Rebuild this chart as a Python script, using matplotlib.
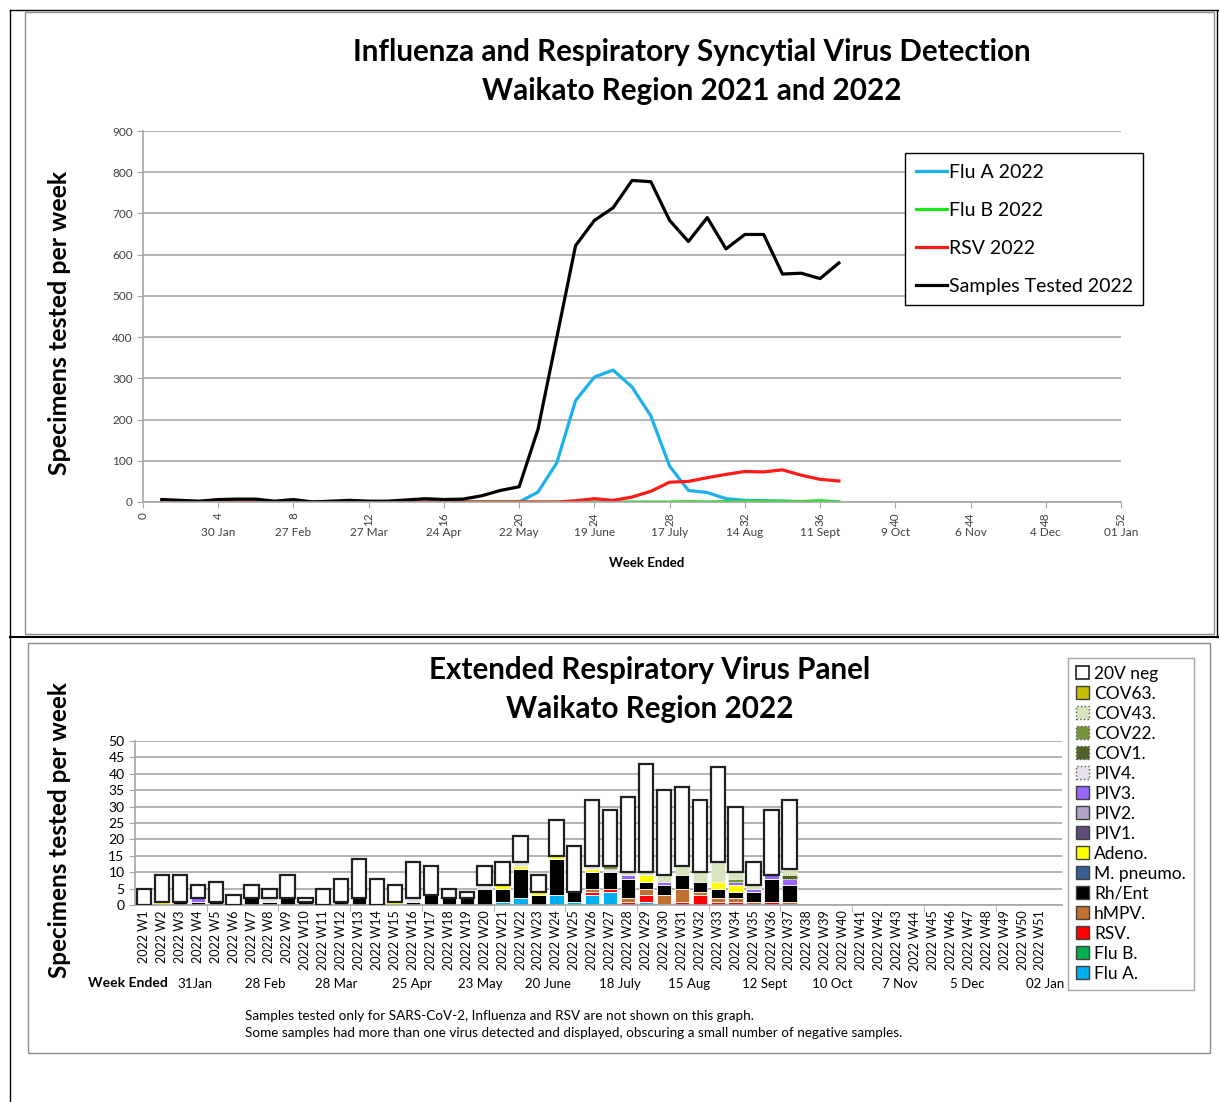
import numpy as np
import matplotlib
matplotlib.use('Agg')
import matplotlib.pyplot as plt
from matplotlib.lines import Line2D
from matplotlib.patches import Patch, Rectangle

plt.rcParams['font.family'] = ['Lato', 'DejaVu Sans']

# ---- top chart: weekly counts 2022 (weeks 1..37)
weeks = list(range(1, 38))
samples = [6, 4, 2, 6, 7, 7, 2, 6, 0, 2, 4, 2, 2, 5, 8, 6, 7, 15, 28, 37,
           176, 399, 622, 683, 714, 780, 777, 683, 632, 690, 614, 649, 649, 553, 555, 542, 580]
flu_a = [0] * 20 + [24, 95, 246, 303, 320, 279, 209, 87, 28, 23, 8, 4, 3, 2, 0, 2, 0]
flu_b = [0] * 28 + [1, 0, 1, 2, 2, 2, 1, 3, 0]
rsv = [0] * 22 + [3, 8, 4, 12, 26, 48, 50, 59, 67, 74, 73, 78, 65, 55, 51]

top_ticks = list(range(0, 53, 4))
top_dates = ['30 Jan', '27 Feb', '27 Mar', '24 Apr', '22 May', '19 June', '17 July',
             '14 Aug', '11 Sept', '9 Oct', '6 Nov', '4 Dec', '01 Jan']

# ---- bottom chart: extended panel, weeks W1..W37 (rest of year empty)
week_labels = ['2022 W%d' % i for i in range(1, 52)]
p_flu_a = [0] * 20 + [1, 2, 0, 3, 1, 3, 4, 0, 1, 0, 0, 0, 0, 0, 0, 0, 0]
p_flu_b = [0] * 37
p_rsv = [0] * 20 + [0, 0, 0, 0, 0, 1, 1, 1, 2, 0, 1, 3, 1, 1, 0, 1, 0]
p_hmpv = [0] * 20 + [0, 0, 0, 0, 0, 1, 0, 1, 2, 3, 4, 1, 1, 1, 1, 0, 1]
p_rh = [0, 0, 1, 1, 1, 0, 2, 1, 2, 1, 0, 1, 2, 0, 0, 1, 3, 2, 2, 5,
        4, 9, 3, 11, 3, 5, 5, 6, 2, 3, 4, 3, 3, 2, 3, 7, 5]
p_mpn = [0] * 37
p_adeno = [0, 1, 0, 0, 0, 0, 0, 0, 0, 0, 0, 0, 0, 0, 1, 0, 0, 0, 0, 0,
           1, 1, 1, 1, 0, 1, 0, 0, 2, 0, 0, 0, 2, 2, 0, 0, 0]
p_piv1 = [0] * 37
p_piv2 = [0] * 37
p_piv3 = [0, 0, 0, 1] + [0] * 16 + [0, 0, 0, 0, 0, 0, 0, 1, 0, 1, 0, 0, 0, 1, 1, 1, 2]
p_piv4 = [0, 0, 0, 0, 0, 0, 0, 1, 0, 0, 0, 0, 0, 0, 0, 1, 0, 0, 0, 1,
          0, 1, 0, 0, 0, 1, 1, 0, 0, 0, 0, 0, 0, 0, 0, 0, 0]
p_cov1 = [0] * 36 + [1]
p_cov22 = [0] * 26 + [1, 0, 0, 0, 0, 0, 0, 1, 0, 0, 0]
p_cov43 = [0] * 27 + [1, 1, 2, 3, 3, 6, 2, 1, 0, 2]
p_cov63 = [0] * 37
p_neg = [5, 8, 8, 4, 6, 3, 4, 3, 7, 1, 5, 7, 12, 8, 5, 11, 9, 3, 2, 6,
         7, 8, 5, 11, 14, 20, 17, 23, 33, 26, 24, 22, 29, 20, 7, 20, 21]

bottom_dates = ['31Jan', '28 Feb', '28 Mar', '25 Apr', '23 May', '20 June', '18 July',
                '15 Aug', '12 Sept', '10 Oct', '7 Nov', '5 Dec', '02 Jan']

W, H = 1219, 1102


def fx(px):
    return px / W


def fy(py):
    return 1 - py / H


fig = plt.figure(figsize=(12.19, 11.02), dpi=100)

# page frame lines (document table look)
for xs, ys, c, lw in [([10, 10], [10, 1102], 'black', 1.0),
                      ([10, 1219], [10, 10], 'black', 1.0),
                      ([10, 1219], [637, 637], 'black', 1.5),
                      ([1217, 1217], [10, 637], 'black', 1.0)]:
    fig.add_artist(Line2D([fx(x) for x in xs], [fy(y) for y in ys], color=c, lw=lw,
                          transform=fig.transFigure))
for x0, y0, x1, y1 in [(25, 12, 1214, 634), (28, 643, 1210, 1053)]:
    fig.add_artist(Rectangle((fx(x0), fy(y1)), fx(x1) - fx(x0), fy(y0) - fy(y1),
                             transform=fig.transFigure, fill=False, ec='#8c8c8c', lw=1))

gray = '#a6a6a6'

# ================= top chart
ax1 = fig.add_axes([fx(143), fy(502), fx(1121) - fx(143), fy(131) - fy(502)])
ax1.plot(weeks, flu_a, color='#1cb0ec', lw=2.3, label='Flu A 2022')
ax1.plot(weeks, flu_b, color='#1ee61e', lw=2.3, label='Flu B 2022')
ax1.plot(weeks, rsv, color='#ff1a1a', lw=2.3, label='RSV 2022')
ax1.plot(weeks, samples, color='black', lw=2.3, label='Samples Tested 2022')
ax1.set_xlim(0, 52)
ax1.set_ylim(0, 900)
ax1.set_yticks(range(0, 901, 100))
ax1.set_xticks(top_ticks)
ax1.set_xticklabels([str(t) for t in top_ticks], rotation=90, fontsize=8.5, color='#404040')
ax1.tick_params(axis='y', labelsize=8.5, labelcolor='#404040')
ax1.tick_params(color=gray, length=4)
ax1.grid(axis='y', color=gray, lw=1.2)
ax1.set_axisbelow(True)
for s in ['top', 'right']:
    ax1.spines[s].set_visible(False)
for s in ['left', 'bottom']:
    ax1.spines[s].set_color(gray)
    ax1.spines[s].set_linewidth(1.2)

for wk, lab in zip(top_ticks[1:], top_dates):
    ax1.text(wk, -0.081, lab, transform=ax1.get_xaxis_transform(), ha='center', va='center',
             fontsize=8.5, color='#404040')

fig.text(fx(692), fy(52), 'Influenza and Respiratory Syncytial Virus Detection',
         ha='center', va='center', fontsize=21.3, weight='bold')
fig.text(fx(692), fy(91), 'Waikato Region 2021 and 2022', ha='center', va='center',
         fontsize=21.3, weight='bold')
fig.text(fx(60), fy(323), 'Specimens tested per week', rotation=90, ha='center', va='center',
         fontsize=18, weight='bold')
fig.text(fx(647), fy(563), 'Week Ended', ha='center', va='center', fontsize=9.5, weight='bold')

leg1 = ax1.legend(loc='upper left', bbox_to_anchor=(fx(905), fy(153)), bbox_transform=fig.transFigure,
                  fontsize=14, frameon=True, fancybox=False, edgecolor='black', framealpha=1,
                  labelspacing=1.08, handlelength=1.6, handletextpad=0.1, borderpad=0.55,
                  borderaxespad=0)
leg1.get_frame().set_linewidth(1.0)

# ================= bottom chart
ax2 = fig.add_axes([fx(135), fy(905), fx(1062) - fx(135), fy(741) - fy(905)])
n = len(week_labels)
x = np.arange(n)


def pad(v):
    return np.array(v + [0] * (n - len(v)), dtype=float)


stack = [
    ('Flu A.', p_flu_a, '#00b0f0', None),
    ('Flu B.', p_flu_b, '#00b050', None),
    ('RSV.', p_rsv, '#ff0000', None),
    ('hMPV.', p_hmpv, '#c0712f', None),
    ('Rh/Ent', p_rh, '#000000', None),
    ('M. pneumo.', p_mpn, '#376092', None),
    ('Adeno.', p_adeno, '#ffff00', None),
    ('PIV1.', p_piv1, '#604a7b', None),
    ('PIV2.', p_piv2, '#b3a2c7', None),
    ('PIV3.', p_piv3, '#9966ff', None),
    ('PIV4.', p_piv4, '#e6e0ec', ':'),
    ('COV1.', p_cov1, '#4f6228', ':'),
    ('COV22.', p_cov22, '#77933c', ':'),
    ('COV43.', p_cov43, '#d7e4bd', ':'),
    ('COV63.', p_cov63, '#c4bd00', None),
    ('20V neg', p_neg, '#ffffff', None),
]

bottom = np.zeros(n)
handles = []
for name, vals, color, ls in stack:
    v = pad(vals)
    m = v > 0
    if name == '20V neg':
        ax2.bar(x[m], v[m], 0.8, bottom=bottom[m], color=color, edgecolor='#202020', lw=1.6, zorder=3)
        handles.append(Patch(facecolor=color, edgecolor='#202020', lw=1.2, label=name))
    else:
        if m.any():
            ax2.bar(x[m], v[m], 0.8, bottom=bottom[m], color=color, edgecolor='white', lw=0.6,
                    linestyle=ls or '-', zorder=2)
        ec = '#555555' if ls else '#404040'
        handles.append(Patch(facecolor=color, edgecolor=ec, lw=1.0, linestyle=ls or '-', label=name))
    bottom += v

ax2.set_xlim(-0.5, 51.2)
ax2.set_ylim(0, 50)
ax2.set_yticks(range(0, 51, 5))
ax2.tick_params(axis='y', labelsize=10, color=gray, length=4)
ax2.set_xticks(x)
ax2.set_xticklabels(week_labels, rotation=90, fontsize=9)
ax2.tick_params(axis='x', length=0, pad=4)
ax2.set_xticks(np.arange(3.5, n, 4), minor=True)
ax2.tick_params(axis='x', which='minor', length=5, color=gray)
ax2.grid(axis='y', color=gray, lw=1.2)
ax2.set_axisbelow(True)
for s in ['top', 'right']:
    ax2.spines[s].set_visible(False)
for s in ['left', 'bottom']:
    ax2.spines[s].set_color(gray)
    ax2.spines[s].set_linewidth(1.2)

bottom_date_px = [195, 265, 336, 412, 480, 548, 620, 689, 765, 832, 900, 967, 1045]
for px, lab in zip(bottom_date_px, bottom_dates):
    fig.text(fx(px), fy(984), lab, ha='center', va='center', fontsize=9.5)
fig.text(fx(128), fy(983), 'Week Ended', ha='center', va='center', fontsize=10, weight='bold')

fig.text(fx(650), fy(670), 'Extended Respiratory Virus Panel', ha='center', va='center',
         fontsize=21.3, weight='bold')
fig.text(fx(650), fy(709), 'Waikato Region 2022', ha='center', va='center',
         fontsize=21.3, weight='bold')
fig.text(fx(60), fy(830), 'Specimens tested per week', rotation=90, ha='center', va='center',
         fontsize=17.5, weight='bold')
fig.text(fx(245), fy(1016), 'Samples tested only for SARS-CoV-2, Influenza and RSV are not shown on this graph.',
         ha='left', va='center', fontsize=9.75)
fig.text(fx(245), fy(1033), 'Some samples had more than one virus detected and displayed, obscuring a small number of negative samples.',
         ha='left', va='center', fontsize=9.75)

leg2 = fig.legend(handles=handles[::-1], loc='upper left', bbox_to_anchor=(fx(1068), fy(658)),
                  fontsize=12.5, frameon=True, fancybox=False, edgecolor=gray, framealpha=1,
                  labelspacing=0.23, handlelength=0.75, handleheight=0.75, handletextpad=0.3,
                  borderpad=0.45, borderaxespad=0)
leg2.get_frame().set_linewidth(1.0)

fig.savefig('out.png', dpi=100)
